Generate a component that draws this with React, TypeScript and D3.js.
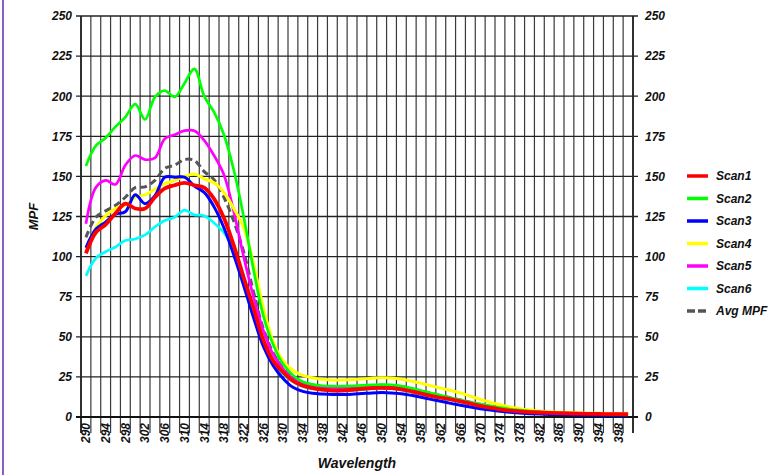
import * as d3 from "d3";
import { useEffect, useRef } from "react";

// wavelength categories (nm)
const wavelengths = [
  290, 292, 294, 296, 298, 300, 302, 304, 306, 308, 310, 312, 314, 316, 318, 320, 322, 324, 326, 328,
  330, 332, 334, 336, 338, 340, 342, 344, 346, 348, 350, 352, 354, 356, 358, 360, 362, 364, 366, 368,
  370, 372, 374, 376, 378, 380, 382, 384, 386, 388, 390, 392, 394, 396, 398, 400
];

const scan1 = [
  102, 115, 120, 127, 133, 130, 130, 137, 142.5, 144.5, 146, 144.5, 143, 136, 124, 107, 87, 68, 48, 35,
  28, 22.5, 19.5, 18, 17, 16.5, 16.5, 17, 17.5, 18, 18.2, 18, 17.3, 16, 14.6, 13.2, 12, 11, 9.7, 8.4,
  7, 5.8, 4.8, 4, 3.5, 3.1, 2.8, 2.6, 2.4, 2.2, 2.1, 2, 1.9, 1.8, 1.8, 1.7
];
const scan2 = [
  156.5, 169, 174, 181, 187, 195, 185.5, 199.5, 203.5, 199.5, 208, 217, 200, 190, 176, 154, 125, 92, 63, 45,
  33, 26, 22, 20.3, 19.5, 19.2, 19.2, 19.4, 19.7, 20, 20.2, 20, 19.3, 18, 16.5, 15, 13.5, 12, 10.6, 9.2,
  8, 6.9, 5.9, 5, 4.3, 3.7, 3.2, 2.8, 2.5, 2.3, 2.1, 2, 1.9, 1.8, 1.8, 1.7
];
const scan3 = [
  105.5, 117, 121.5, 126.5, 128, 138.5, 133, 138, 149.5, 149.5, 149.5, 144, 140, 131, 118, 101, 82, 62, 44, 32,
  24, 18.5, 16, 14.8, 14.3, 14, 14, 14.2, 14.6, 15, 15.2, 15, 14.5, 13.5, 12.3, 11, 9.8, 8.5, 7.3, 6.2,
  5.2, 4.3, 3.6, 3, 2.5, 2.1, 1.8, 1.6, 1.5, 1.4, 1.3, 1.2, 1.2, 1.1, 1.1, 1.1
];
const scan4 = [
  104, 118, 125.5, 130, 132, 137, 138.5, 142, 145.5, 147.5, 150, 151.5, 148.5, 146, 140, 130, 118, 96, 68, 47,
  35, 29, 26, 24.5, 23.5, 23, 23, 23.3, 23.7, 24.2, 24.5, 24.3, 23.6, 22.4, 21, 19.5, 18, 16.5, 15, 13,
  11, 9.2, 7.6, 6.3, 5.2, 4.4, 3.7, 3.2, 2.9, 2.7, 2.5, 2.4, 2.3, 2.2, 2.1, 2
];
const scan5 = [
  120.5, 143, 147.5, 145, 157, 163, 160.5, 161.5, 173.5, 176, 178.5, 178.5, 172.5, 163, 151, 128, 100, 75, 54, 39,
  30, 24, 21, 19.5, 18.5, 18, 18, 18.2, 18.6, 19, 19.2, 19, 18.3, 17, 15.5, 14, 12.7, 11.5, 10.2, 8.8,
  7.5, 6.3, 5.3, 4.4, 3.8, 3.3, 2.9, 2.7, 2.5, 2.3, 2.2, 2.1, 2, 1.9, 1.9, 1.8
];
const scan6 = [
  88, 99, 103, 106, 110, 111, 113.5, 118.5, 122.5, 124.5, 129, 126, 125.5, 121, 115, 105, 88, 66, 47, 35,
  27, 22, 19, 17.6, 16.7, 16.2, 16.2, 16.6, 17.1, 17.6, 17.8, 17.6, 16.9, 15.7, 14.3, 12.9, 11.7, 10.6, 9.4, 8.1,
  6.8, 5.6, 4.6, 3.9, 3.4, 3, 2.7, 2.5, 2.3, 2.1, 2, 1.9, 1.8, 1.7, 1.7, 1.6
];
const avgMpf = [
  112, 124.5, 128.5, 132, 137, 143, 143.5, 147.5, 155, 157, 160.5, 160, 153, 148, 137, 122, 103, 78, 55, 40,
  30.5, 24.5, 21.5, 19.8, 19, 18.6, 18.6, 18.8, 19.2, 19.6, 19.8, 19.6, 19, 17.7, 16.2, 14.7, 13.3, 12, 10.6, 9.2,
  7.9, 6.6, 5.6, 4.7, 4, 3.5, 3.1, 2.8, 2.6, 2.4, 2.2, 2.1, 2, 1.9, 1.9, 1.8
];

const yTicks = [0, 25, 50, 75, 100, 125, 150, 175, 200, 225, 250];

const legendNames = ["Scan1", "Scan2", "Scan3", "Scan4", "Scan5", "Scan6", "Avg MPF"];
const legendColors = ["#ff0000", "#00ff00", "#0000ff", "#ffff00", "#ff00ff", "#00ffff", "#555555"];

const W = 768;
const H = 475;
const margin = { top: 16, right: 135, bottom: 58, left: 81 };
const font = "'Liberation Sans', Arial, sans-serif";

const ChartDraw = () => {
  const chartRef = useRef(null);

  useEffect(() => {
    const svg = d3.select(chartRef.current);
    svg.selectAll("*").remove();

    const x0 = margin.left;
    const x1 = W - margin.right;
    const y0 = H - margin.bottom;
    const y1 = margin.top;

    const scaleX = d3.scaleBand().domain(wavelengths.map(String)).range([x0, x1]).padding(0);
    const scaleY = d3.scaleLinear().domain([0, 250]).range([y0, y1]);
    const bw = scaleX.bandwidth();

    // left purple frame line
    svg.append("line")
      .attr("x1", 3).attr("x2", 3).attr("y1", 0).attr("y2", H)
      .attr("stroke", "#8d5cc4").attr("stroke-width", 2);

    // vertical grid lines at category boundaries
    const bounds = wavelengths.map((w) => scaleX(String(w)));
    bounds.push(x1);
    svg.append("g")
      .selectAll("line")
      .data(bounds)
      .enter()
      .append("line")
      .attr("x1", (d) => d).attr("x2", (d) => d)
      .attr("y1", y1).attr("y2", y0 + 16)
      .attr("stroke", (d, i) => (i === 0 || i === bounds.length - 1 ? "#1a1a1a" : "#3a3a3a"))
      .attr("stroke-width", (d, i) => (i === 0 || i === bounds.length - 1 ? 1.8 : 1.2));

    // horizontal grid lines
    svg.append("g")
      .selectAll("line")
      .data(yTicks)
      .enter()
      .append("line")
      .attr("x1", x0 - 5).attr("x2", x1 + 5)
      .attr("y1", (d) => scaleY(d)).attr("y2", (d) => scaleY(d))
      .attr("stroke", (d) => (d === 0 ? "#111" : "#222"))
      .attr("stroke-width", (d) => (d === 0 ? 2 : 1.3));

    // y tick labels, both sides
    const yLab = (side) =>
      svg.append("g")
        .selectAll("text")
        .data(yTicks)
        .enter()
        .append("text")
        .attr("x", side === "left" ? x0 - 9 : x1 + 12)
        .attr("y", (d) => scaleY(d))
        .attr("dy", "0.36em")
        .attr("text-anchor", side === "left" ? "end" : "start")
        .style("font-family", font)
        .style("font-size", "12px")
        .style("font-weight", "bold")
        .style("font-style", "italic")
        .style("fill", "#111")
        .text((d) => d);
    yLab("left");
    yLab("right");

    // x tick labels, every other category, rotated
    svg.append("g")
      .selectAll("text")
      .data(wavelengths.filter((d, i) => i % 2 === 0))
      .enter()
      .append("text")
      .attr("transform", (d) => `translate(${scaleX(String(d)) + bw / 2}, ${y0 + 6}) rotate(-90)`)
      .attr("dy", "0.36em")
      .attr("text-anchor", "end")
      .style("font-family", font)
      .style("font-size", "12px")
      .style("font-weight", "bold")
      .style("font-style", "italic")
      .style("fill", "#111")
      .text((d) => d);

    // axis titles
    svg.append("text")
      .attr("transform", `translate(33, ${(y0 + y1) / 2}) rotate(-90)`)
      .attr("text-anchor", "middle")
      .attr("dy", "0.36em")
      .style("font-family", font)
      .style("font-size", "13px")
      .style("font-weight", "bold")
      .style("font-style", "italic")
      .style("fill", "#111")
      .text("MPF");

    svg.append("text")
      .attr("x", 357)
      .attr("y", 468)
      .attr("text-anchor", "middle")
      .style("font-family", font)
      .style("font-size", "14px")
      .style("font-weight", "bold")
      .style("font-style", "italic")
      .style("fill", "#111")
      .text("Wavelength");

    // lines
    const line = d3.line()
      .x((d, i) => scaleX(String(wavelengths[i])) + bw / 2)
      .y((d) => scaleY(d))
      .curve(d3.curveCatmullRom.alpha(0.5));

    const drawOrder = [
      { values: avgMpf, color: legendColors[6], dash: "7,4", width: 3 },
      { values: scan6, color: legendColors[5], width: 2.7 },
      { values: scan5, color: legendColors[4], width: 2.7 },
      { values: scan4, color: legendColors[3], width: 3 },
      { values: scan2, color: legendColors[1], width: 2.7 },
      { values: scan3, color: legendColors[2], width: 3 },
      { values: scan1, color: legendColors[0], width: 3.8 }
    ];

    drawOrder.forEach((s) => {
      svg.append("path")
        .attr("d", line(s.values))
        .attr("fill", "none")
        .attr("stroke", s.color)
        .attr("stroke-width", s.width)
        .attr("stroke-dasharray", s.dash || null)
        .attr("stroke-linejoin", "round");
    });

    // legend
    const lg = svg.append("g");
    legendNames.forEach((name, i) => {
      const y = 176 + i * 22.5;
      lg.append("line")
        .attr("x1", 687).attr("x2", 708)
        .attr("y1", y).attr("y2", y)
        .attr("stroke", legendColors[i])
        .attr("stroke-width", 3.5)
        .attr("stroke-dasharray", i === 6 ? "8,3" : null);
      lg.append("text")
        .attr("x", 716)
        .attr("y", y)
        .attr("dy", "0.36em")
        .style("font-family", font)
        .style("font-size", "12px")
        .style("font-weight", "bold")
        .style("font-style", "italic")
        .style("fill", "#111")
        .text(name);
    });
  }, []);

  return (
    <svg
      ref={chartRef}
      width={W}
      height={H}
      style={{ position: "absolute", left: 0, top: 0, background: "#fff" }}
    ></svg>
  );
};

export default function App() {
  return <ChartDraw />;
}
